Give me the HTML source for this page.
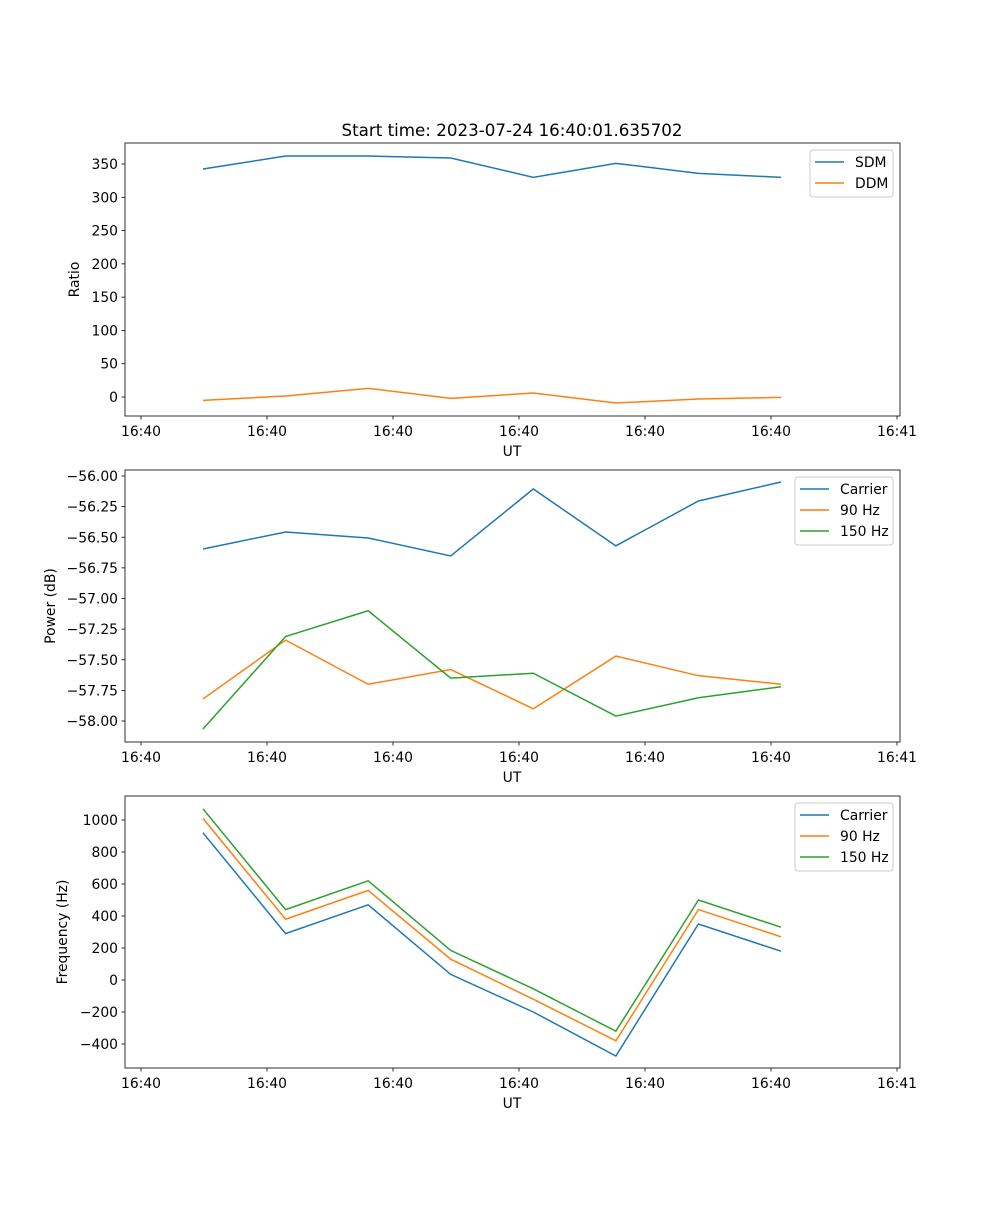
<!DOCTYPE html>
<html><head><meta charset="utf-8"><style>
body{margin:0;background:#fff}
svg text{font-family:"DejaVu Sans","Liberation Sans",sans-serif;font-size:13.9px;fill:#000}
</style></head><body>
<svg id="chart" width="1000" height="1200" xmlns="http://www.w3.org/2000/svg"></svg>
<script>
const xTickLabels=["16:40","16:40","16:40","16:40","16:40","16:40","16:41"];
const sdm=[342.5,362,362,359,330,351,336,330];
const ddm=[-5,1.5,13,-2,6,-9,-3,-0.5];
const powCarrier=[-56.596,-56.457,-56.506,-56.653,-56.106,-56.57,-56.204,-56.049];
const pow90=[-57.82,-57.34,-57.70,-57.58,-57.90,-57.47,-57.63,-57.70];
const pow150=[-58.065,-57.31,-57.10,-57.65,-57.61,-57.96,-57.81,-57.72];
const freqCarrier=[920,290,470,35,-200,-475,350,180];
const freq90=[1010,380,560,130,-120,-380,440,270];
const freq150=[1070,440,620,185,-55,-320,500,330];
const ticks1=[0,50,100,150,200,250,300,350];
const ticks2=[-58.00,-57.75,-57.50,-57.25,-57.00,-56.75,-56.50,-56.25,-56.00];
const ticks3=[-400,-200,0,200,400,600,800,1000];

const NS="http://www.w3.org/2000/svg";
const svg=document.getElementById('chart');
function mk(tag,attrs,parent){const e=document.createElementNS(NS,tag);for(const k in attrs)e.setAttribute(k,attrs[k]);(parent||svg).appendChild(e);return e;}
const L=125,R=900;
const xPt=i=>203+i*82.57;
const xTick=k=>141+k*126;
const C=['#1f77b4','#ff7f0e','#2ca02c'];
function panel(name,top,bot,yMap,yTicks,fmt,series,names,legendX,legendW,ylabel,ylabX){
  const g=mk('g',{});
  
  
  series.forEach((s,j)=>{
    const p=mk('polyline',{points:s.map((v,i)=>xPt(i)+','+yMap(v)).join(' '),fill:'none',stroke:C[j],'stroke-width':1.5},g);
    
    
  });
  const fr=mk('rect',{x:L,y:top,width:R-L,height:bot-top,fill:'none',stroke:'#000','stroke-width':0.8},g);
  
  
  yTicks.forEach(v=>{const y=yMap(v);
    mk('line',{x1:L-3.5,x2:L,y1:y,y2:y,stroke:'#000','stroke-width':0.8},g);
    const t=mk('text',{x:L-7,y:y+5,'text-anchor':'end'},g);t.textContent=fmt(v);
    
    
  });
  xTickLabels.forEach((lab,k)=>{const x=xTick(k);
    mk('line',{x1:x,x2:x,y1:bot,y2:bot+3.5,stroke:'#000','stroke-width':0.8},g);
    const t=mk('text',{x:x,y:bot+20,'text-anchor':'middle'},g);t.textContent=lab;
    
    
  });
  const xl=mk('text',{x:512,y:bot+40,'text-anchor':'middle'},g);xl.textContent='UT';
  
  
  const yl=mk('text',{x:ylabX,y:(top+bot)/2,'text-anchor':'middle',transform:`rotate(-90 ${ylabX} ${(top+bot)/2})`},g);yl.textContent=ylabel;
  
  
  const lg=mk('g',{},g);
  
  
  mk('rect',{x:legendX,y:top+7,width:legendW,height:names.length*21+5,rx:3,fill:'#fff',stroke:'#ccc','stroke-width':1,'fill-opacity':0.8},lg);
  names.forEach((n,j)=>{const y=top+19+j*21;
    mk('line',{x1:legendX+5,x2:legendX+34,y1:y,y2:y,stroke:C[j],'stroke-width':1.5},lg);
    const t=mk('text',{x:legendX+45,y:y+5},lg);t.textContent=n;
    
    
  });
}
panel('ratio',143,416,v=>397-v*0.6657,ticks1,v=>String(v),[sdm,ddm],['SDM','DDM'],810,83,'Ratio',79);
panel('power',470,742,v=>476+(-56-v)*122.5,ticks2,v=>'\u2212'+Math.abs(v).toFixed(2),[powCarrier,pow90,pow150],['Carrier','90 Hz','150 Hz'],795,98,'Power (dB)',55);
panel('frequency',796,1068,v=>980-v*0.16,ticks3,v=>v<0?'\u2212'+Math.abs(v):String(v),[freqCarrier,freq90,freq150],['Carrier','90 Hz','150 Hz'],795,98,'Frequency (Hz)',67);
const tt=mk('text',{x:512,y:136,'text-anchor':'middle',style:'font-size:16.7px'});tt.textContent='Start time: 2023-07-24 16:40:01.635702';


</script>
</body></html>
